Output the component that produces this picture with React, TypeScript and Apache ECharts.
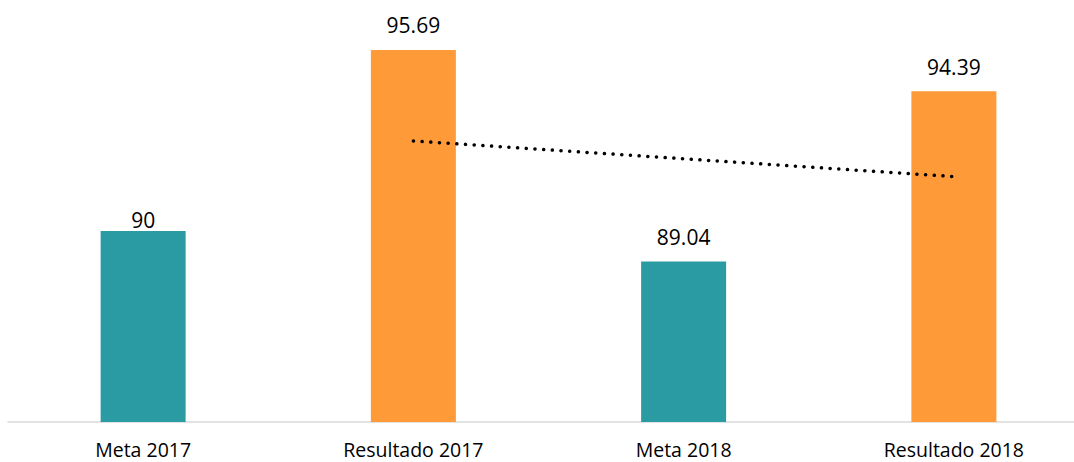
import React, { useEffect, useRef } from "react";
import * as echarts from "echarts";

const categories = ["Meta 2017", "Resultado 2017", "Meta 2018", "Resultado 2018"];
const values = [90, 95.69, 89.04, 94.39];
const trendValues: (number | null)[] = [null, 92.83, null, 91.71];

const TEAL = "#2A9BA2";
const ORANGE = "#FF9A38";
const barColors = [TEAL, ORANGE, TEAL, ORANGE];
const labelDistances = [1, 14, 14, 14];

export default function App() {
  const ref = useRef<HTMLDivElement>(null);
  useEffect(() => {
    if (!ref.current) return;
    const chart = echarts.init(ref.current, undefined, { renderer: "svg" });
    const font = "'Open Sans', sans-serif";
    chart.setOption({
      animation: false,
      backgroundColor: "#ffffff",
      grid: { left: 8, right: 1, top: 8.2, bottom: 40 },
      xAxis: {
        type: "category",
        data: categories,
        axisLine: { lineStyle: { color: "#D9D9D9", width: 1.5 } },
        axisTick: { show: false },
        axisLabel: {
          color: "#000",
          fontSize: 19.5,
          lineHeight: 18,
          fontFamily: font,
          margin: 18,
          interval: 0,
        },
      },
      yAxis: { type: "value", min: 84, max: 97, show: false, splitLine: { show: false } },
      series: [
        {
          type: "bar",
          barWidth: 85,
          data: values.map((v, i) => ({
            value: v,
            itemStyle: { color: barColors[i] },
            label: { distance: labelDistances[i] },
          })),
          label: {
            show: true,
            position: "top",
            color: "#000",
            fontSize: 21,
            fontFamily: font,
          },
        },
        {
          type: "line",
          data: trendValues,
          connectNulls: true,
          showSymbol: false,
          symbol: "none",
          lineStyle: { color: "#000", width: 3.5, type: [0.1, 8.6], cap: "round" },
          z: 5,
        },
      ],
    });
    return () => chart.dispose();
  }, []);
  return (
    <div
      ref={ref}
      style={{ position: "fixed", left: 0, top: 0, width: 1090, height: 462, overflow: "hidden" }}
    />
  );
}
